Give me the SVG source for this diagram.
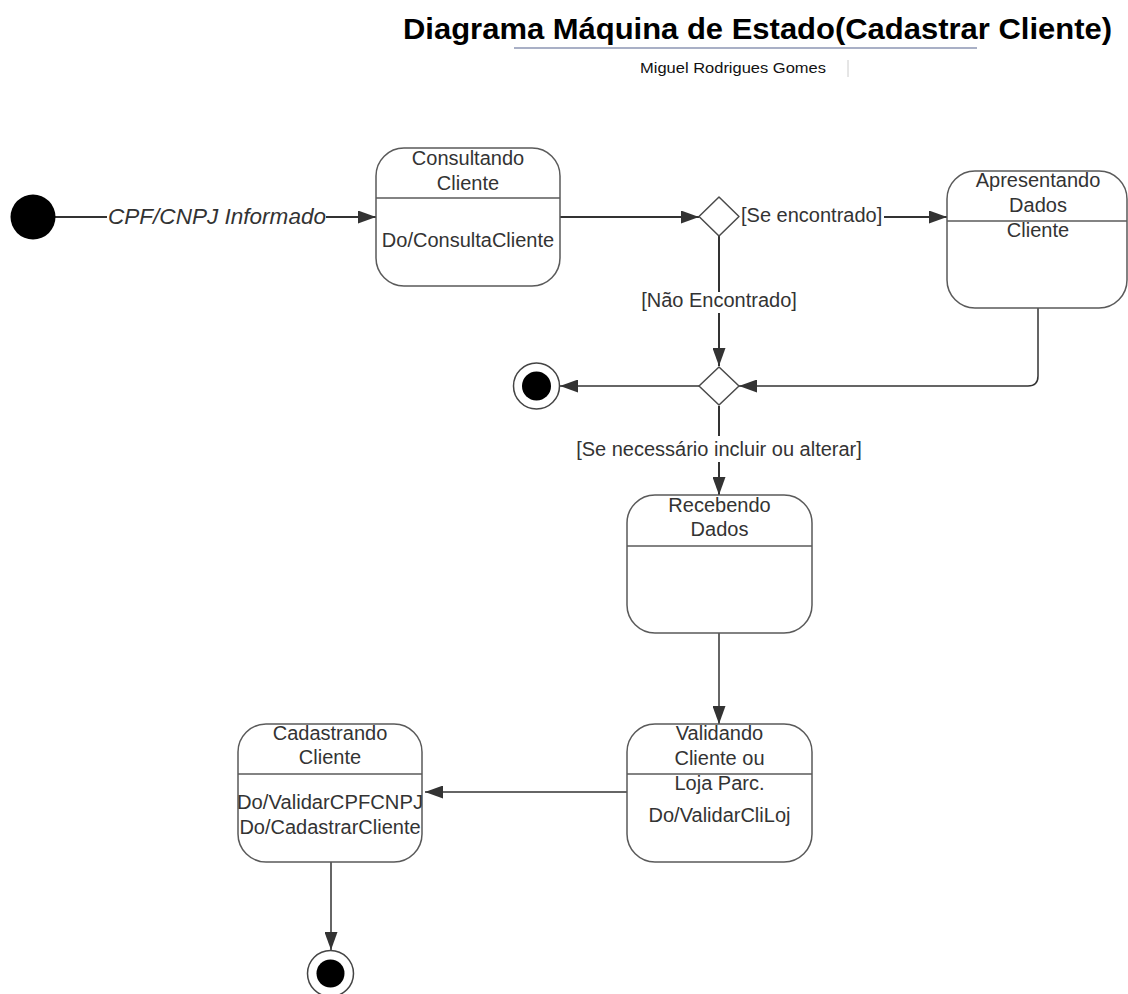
<svg xmlns="http://www.w3.org/2000/svg" width="1128" height="994" viewBox="0 0 1128 994">
  <style>
    .state { fill: #ffffff; stroke: #5a5a5a; stroke-width: 1.5; }
    .divider { stroke: #5a5a5a; stroke-width: 1.5; }
    .choice { fill: #ffffff; stroke: #4a4a4a; stroke-width: 1.5; stroke-linejoin: round; }
    .label { font-family: "Liberation Sans", Arial, sans-serif; font-size: 20px; fill: #333333; }
    .mid { text-anchor: middle; }
    .edge { fill: none; stroke: #333333; stroke-width: 2; }
    .edge.thin { stroke-width: 1.5; }
    .dot { fill: #000000; }
    .ring { fill: #ffffff; stroke: #444444; stroke-width: 1.5; }
  </style>
  <defs>
    <marker id="arrow" markerUnits="userSpaceOnUse" markerWidth="18" markerHeight="13" refX="18" refY="6.5" orient="auto">
      <path d="M0,0 L18,6.5 L0,13 z" fill="#333333"/>
    </marker>
  </defs>

  <rect width="1128" height="994" fill="#ffffff"/>

  <!-- Heading -->
  <g id="heading">
    <text x="403" y="39" textLength="709" lengthAdjust="spacingAndGlyphs" font-family="Liberation Sans, Arial, sans-serif" font-size="30" font-weight="bold" fill="#000000">Diagrama Máquina de Estado(Cadastrar Cliente)</text>
    <line x1="514" y1="48" x2="977" y2="48" stroke="#a9b0c6" stroke-width="2"/>
    <text x="640" y="73" textLength="186" lengthAdjust="spacingAndGlyphs" font-family="Liberation Sans, Arial, sans-serif" font-size="15" fill="#111111">Miguel Rodrigues Gomes</text>
    <line x1="848" y1="60" x2="848" y2="77" stroke="#cccccc" stroke-width="1"/>
  </g>

  <!-- Connectors -->
  <g id="connectors">
    <path class="edge" d="M55,217 H107"/>
    <path class="edge" d="M326,217 H376" marker-end="url(#arrow)"/>
    <text x="108" y="224" font-family="Liberation Sans, Arial, sans-serif" font-size="22" font-style="italic" fill="#333333" textLength="218" lengthAdjust="spacingAndGlyphs">CPF/CNPJ Informado</text>

    <path class="edge" d="M560,217 H699" marker-end="url(#arrow)"/>

    <path class="edge" d="M884,217 H947" marker-end="url(#arrow)"/>
    <text class="label" x="741" y="222">[Se encontrado]</text>

    <path class="edge" d="M719,236 V292"/>
    <path class="edge" d="M719,313 V366" marker-end="url(#arrow)"/>
    <text class="label mid" x="719" y="307">[Não Encontrado]</text>

    <path class="edge thin" d="M1038,308 V376 Q1038,386 1028,386 H739" marker-end="url(#arrow)"/>
    <path class="edge thin" d="M699,386 H560" marker-end="url(#arrow)"/>

    <path class="edge" d="M719,406 V436"/>
    <path class="edge" d="M719,462 V495" marker-end="url(#arrow)"/>
    <text class="label mid" x="719" y="456">[Se necessário incluir ou alterar]</text>

    <path class="edge thin" d="M719,633 V724" marker-end="url(#arrow)"/>
    <path class="edge thin" d="M627,792 H425" marker-end="url(#arrow)"/>
    <path class="edge thin" d="M331,862 V950" marker-end="url(#arrow)"/>
  </g>

  <!-- Start -->
  <g id="initial">
    <circle class="dot" cx="33" cy="217" r="22.5"/>
  </g>

  <g id="consultando-cliente">
    <rect class="state" x="376" y="148" width="184" height="138" rx="28" ry="28"/>
    <line class="divider" x1="376" y1="198" x2="560" y2="198"/>
    <text class="label mid" x="468" y="165">Consultando</text>
    <text class="label mid" x="468" y="190">Cliente</text>
    <text class="label mid" x="468" y="247">Do/ConsultaCliente</text>
  </g>

  <g id="choice-encontrado">
    <path class="choice" d="M719,197 L739,216.5 L719,236 L699,216.5 z"/>
  </g>

  <g id="apresentando-dados">
    <rect class="state" x="947" y="171" width="180" height="137" rx="28" ry="28"/>
    <line class="divider" x1="947" y1="221" x2="1127" y2="221"/>
    <text class="label mid" x="1038" y="187">Apresentando</text>
    <text class="label mid" x="1038" y="212">Dados</text>
    <text class="label mid" x="1038" y="237">Cliente</text>
  </g>

  <g id="choice-alterar">
    <path class="choice" d="M719,367 L739,386 L719,405 L699,386 z"/>
  </g>

  <g id="final-1">
    <circle class="ring" cx="536.5" cy="386" r="23"/>
    <circle class="dot" cx="536.5" cy="386" r="14.5"/>
  </g>

  <g id="recebendo-dados">
    <rect class="state" x="627" y="495" width="185" height="138" rx="28" ry="28"/>
    <line class="divider" x1="627" y1="546" x2="812" y2="546"/>
    <text class="label mid" x="719.5" y="512">Recebendo</text>
    <text class="label mid" x="719.5" y="536">Dados</text>
  </g>

  <g id="validando-cliente">
    <rect class="state" x="627" y="724" width="185" height="138" rx="28" ry="28"/>
    <line class="divider" x1="627" y1="774" x2="812" y2="774"/>
    <text class="label mid" x="719.5" y="740">Validando</text>
    <text class="label mid" x="719.5" y="765">Cliente ou</text>
    <text class="label mid" x="719.5" y="790">Loja Parc.</text>
    <text class="label mid" x="719.5" y="822">Do/ValidarCliLoj</text>
  </g>

  <g id="cadastrando-cliente">
    <rect class="state" x="238" y="724" width="184" height="138" rx="28" ry="28"/>
    <line class="divider" x1="238" y1="774" x2="422" y2="774"/>
    <text class="label mid" x="330" y="740">Cadastrando</text>
    <text class="label mid" x="330" y="764">Cliente</text>
    <text class="label mid" x="330" y="809" textLength="186" lengthAdjust="spacingAndGlyphs">Do/ValidarCPFCNPJ</text>
    <text class="label mid" x="330" y="834">Do/CadastrarCliente</text>
  </g>

  <g id="final-2">
    <circle class="ring" cx="330.5" cy="973.5" r="23"/>
    <circle class="dot" cx="330.5" cy="973.5" r="14"/>
  </g>
</svg>
